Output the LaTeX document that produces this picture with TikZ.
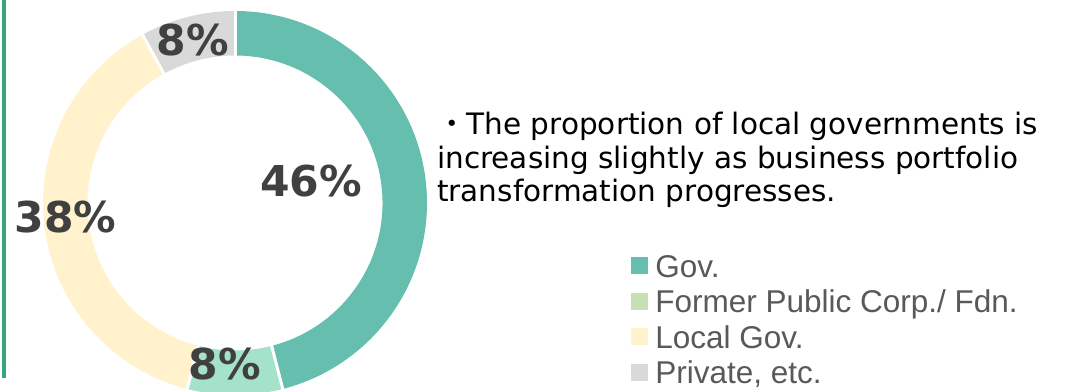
\documentclass[tikz,border=0pt]{standalone}
\usepackage{fontspec}
\usepackage{xcolor}
\usetikzlibrary{positioning}
\newfontfamily\dejavu{DejaVu Sans}
\newfontfamily\legfont{Liberation Sans}
\newfontfamily\cjk{Noto Sans CJK JP}
\definecolor{govc}{HTML}{66BFAE}
\definecolor{fpcc}{HTML}{A4E3CA}
\definecolor{fpckey}{HTML}{C5E0B4}
\definecolor{locc}{HTML}{FFF2CC}
\definecolor{privc}{HTML}{D9D9D9}
\definecolor{barc}{HTML}{38A67A}
\definecolor{pctc}{HTML}{404040}
\definecolor{legc}{HTML}{595959}

\begin{document}
\begin{tikzpicture}[x=1pt, y=1pt,
  pct/.style = {font=\dejavu\bfseries\fontsize{42.5}{44}\selectfont, text=pctc, inner sep=0, text height=31pt, text depth=0pt},
  note/.style = {font=\dejavu\fontsize{29.5}{33}\selectfont, inner sep=0, anchor=base west},
  key/.style = {minimum size=17pt, inner sep=0},
  keytext/.style = {font=\legfont\fontsize{31.5}{33}\selectfont, text=legc, inner sep=0, text height=22.5pt, text depth=0pt, anchor=west}]
\useasboundingbox (0,0) rectangle (1076,391);
\fill[barc] (1.5,391) rectangle (5.5,13);

% donut
\begin{scope}[shift={(235,188)}]
  \fill[govc] (90:192) arc[start angle=90, end angle=-75.6, radius=192] -- (-75.6:147.5) arc[start angle=-75.6, end angle=90, radius=147.5] -- cycle;
  \fill[fpcc] (-75.6:192) arc[start angle=-75.6, end angle=-104.4, radius=192] -- (-104.4:147.5) arc[start angle=-104.4, end angle=-75.6, radius=147.5] -- cycle;
  \fill[locc] (-104.4:192) arc[start angle=-104.4, end angle=-241.2, radius=192] -- (-241.2:147.5) arc[start angle=-241.2, end angle=-104.4, radius=147.5] -- cycle;
  \fill[privc] (-241.2:192) arc[start angle=-241.2, end angle=-270, radius=192] -- (-270:147.5) arc[start angle=-270, end angle=-241.2, radius=147.5] -- cycle;
  \draw[white, line width=3pt] (90:140) -- (90:200);
  \draw[white, line width=3pt] (-75.6:140) -- (-75.6:200);
  \draw[white, line width=3pt] (-104.4:140) -- (-104.4:200);
  \draw[white, line width=3pt] (-241.2:140) -- (-241.2:200);
\end{scope}

\node[pct] (gov) at (311,209.5) {46\%};
\node[pct] (fpc) at (225,27) {8\%};
\node[pct] (loc) at (65.5,173.5) {38\%};
\node[pct] (priv) at (192.5,351) {8\%};

% note
\node[note] (n1) at (437,256) {{\cjk ・}The proportion of local governments is};
\node[note] (n2) at (437,222.7) {increasing slightly as business portfolio};
\node[note] (n3) at (437,189.4) {transformation progresses.};

% legend
\node[key, fill=govc] (k1) at (639.5,125) {};
\node[key, fill=fpckey] (k2) [below=18pt of k1] {};
\node[key, fill=locc] (k3) [below=18pt of k2] {};
\node[key, fill=privc] (k4) [below=18pt of k3] {};
\node[keytext] (t1) [right=7pt of k1] {Gov.};
\node[keytext] (t2) [right=7pt of k2] {Former Public Corp./ Fdn.};
\node[keytext] (t3) [right=7pt of k3] {Local Gov.};
\node[keytext] (t4) [right=7pt of k4] {Private, etc.};
\end{tikzpicture}
\end{document}
